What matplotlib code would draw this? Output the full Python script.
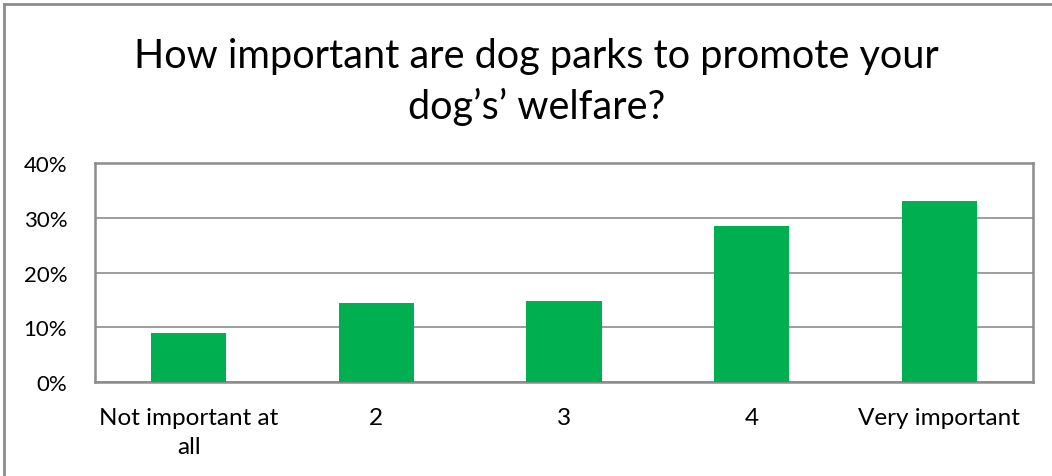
import matplotlib.pyplot as plt
from matplotlib.lines import Line2D
from matplotlib.ticker import PercentFormatter

# survey answers and share of respondents (%)
categories = ["Not important at\nall", "2", "3", "4", "Very important"]
shares = [9.0, 14.4, 14.8, 28.5, 33.0]
yticks = [0, 10, 20, 30, 40]

plt.rcParams['font.family'] = ['Lato', 'DejaVu Sans']

fig = plt.figure(figsize=(10.52, 4.77), dpi=100)
ax = fig.add_axes([95 / 1052, 1 - 383 / 477, (1033 - 95) / 1052, (383 - 164) / 477])

x = range(len(categories))
ax.bar(x, shares, width=0.4, color="#00B050", zorder=3)

ax.set_xlim(-0.5, len(categories) - 0.5)
ax.set_ylim(0, 40)
ax.set_yticks(yticks)
ax.yaxis.set_major_formatter(PercentFormatter(decimals=0))
ax.set_xticks(list(x))
ax.set_xticklabels(categories, fontsize=17.5, linespacing=1.45)
ax.tick_params(axis='y', labelsize=16, length=0, pad=20)
ax.tick_params(axis='x', length=0, pad=18)
for lbl in ax.get_yticklabels():
    lbl.set_horizontalalignment('right')

ax.grid(axis='y', color="#8c8c8c", linewidth=1.2, zorder=0)
for side in ax.spines.values():
    side.set_color("#8c8c8c")
    side.set_linewidth(1.8)

fig.text(0.51, 0.828, "How important are dog parks to promote your\ndog’s’ welfare?",
         ha='center', va='center', fontsize=28.5, linespacing=1.4)

# outer chart frame (top and left edges)
fig.add_artist(Line2D([4 / 1052, 1], [1 - 5 / 477, 1 - 5 / 477], color="#8c8c8c", linewidth=2))
fig.add_artist(Line2D([4 / 1052, 4 / 1052], [0, 1 - 5 / 477], color="#8c8c8c", linewidth=2))

fig.savefig("out.png", dpi=100)
